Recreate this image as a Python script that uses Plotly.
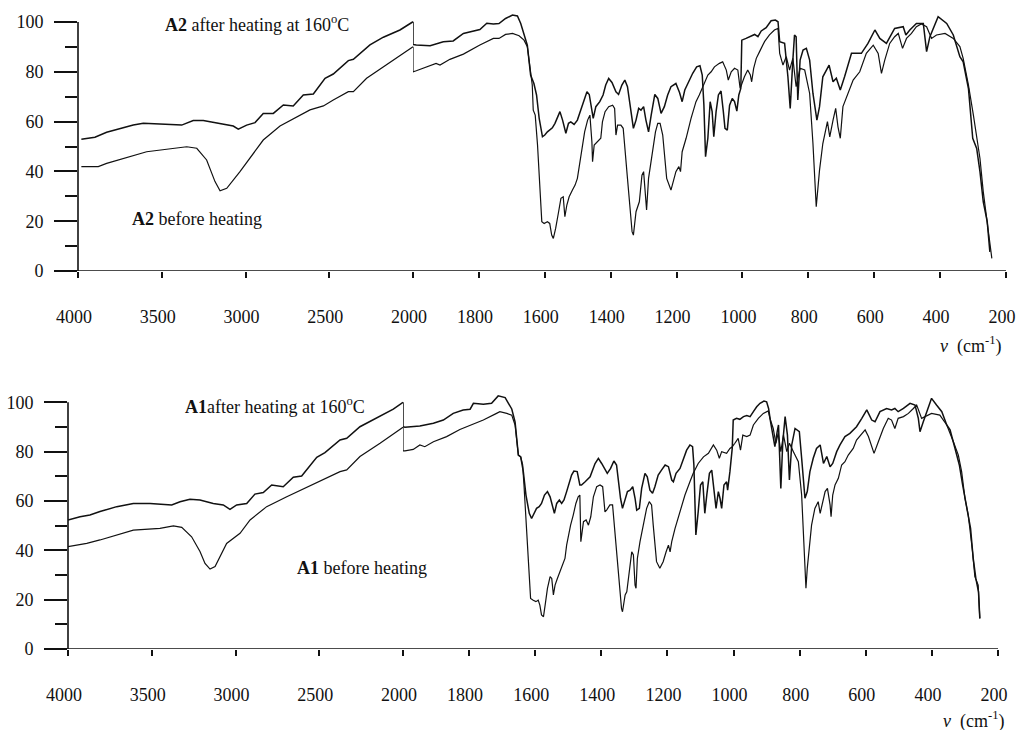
import plotly.graph_objects as go

# ---------------- data (wavenumber cm-1, transmittance %) ----------------
top_after = [(3980,52.9),(3899,53.7),(3829,55.7),(3670,58.6),(3610,59.3),(3381,58.6),(3312,60.4),(3252,60.4),(3073,58.2),(3043,57.0),(2993,58.6),(2943,59.6),(2894,63.3),(2834,63.3),(2774,66.7),(2715,66.3),(2655,70.7),(2595,71.1),(2525,77.4),(2476,79.1),(2386,84.5),(2356,85.0),(2257,90.8),(2177,93.9),(2078,96.8),(2000,100.1),(2000,91.0),(1990,90.8),(1948,90.5),(1908,92.1),(1878,92.4),(1847,95.4),(1797,97.0),(1776,99.5),(1756,99.2),(1739,99.4),(1719,101.4),(1698,102.8),(1683,102.4),(1673,99.4),(1663,94.8),(1653,90.7),(1643,78.7),(1633,75.3),(1625,70.7),(1617,61.3),(1607,53.9),(1600,54.6),(1592,55.9),(1585,56.6),(1577,57.5),(1569,59.3),(1561,61.9),(1554,64.0),(1546,60.6),(1536,55.3),(1528,59.3),(1521,59.9),(1511,58.9),(1501,60.6),(1491,64.6),(1480,68.6),(1472,72.0),(1465,70.9),(1457,64.0),(1453,61.3),(1445,66.0),(1433,68.0),(1423,70.7),(1415,74.7),(1406,77.3),(1396,75.7),(1384,72.0),(1376,70.9),(1366,74.7),(1357,76.7),(1349,74.0),(1340,66.6),(1331,57.3),(1323,60.6),(1315,65.3),(1308,64.6),(1300,66.0),(1293,60.6),(1285,55.9),(1277,62.6),(1266,70.9),(1257,69.3),(1247,63.3),(1237,66.0),(1227,70.7),(1217,74.0),(1202,75.3),(1191,71.7),(1183,68.0),(1175,72.7),(1163,76.0),(1151,79.4),(1139,82.0),(1129,82.4),(1122,78.7),(1117,66.6),(1112,45.9),(1105,53.3),(1098,68.0),(1092,64.0),(1087,53.9),(1080,64.0),(1073,70.7),(1065,72.3),(1058,64.0),(1053,57.3),(1046,56.6),(1039,66.6),(1031,69.3),(1024,68.0),(1017,64.2),(1011,70.7),(1005,73.3),(1002,92.7),(989,93.4),(978,94.1),(963,95.0),(953,94.1),(943,96.4),(928,97.7),(913,100.5),(900,100.8),(892,100.1),(887,92.1),(872,91.4),(862,78.0),(855,65.3),(847,84.7),(842,94.8),(837,94.1),(832,68.7),(825,84.7),(816,88.7),(806,89.4),(796,84.7),(786,71.3),(774,60.6),(766,66.0),(756,78.0),(737,82.7),(725,76.0),(715,77.4),(703,72.7),(690,78.0),(669,87.4),(639,87.4),(619,91.4),(598,96.8),(583,93.4),(563,91.4),(548,95.4),(538,97.4),(512,98.1),(504,94.8),(492,96.8),(472,99.4),(451,99.4),(441,88.1),(431,94.1),(406,102.1),(380,99.4),(360,94.8),(340,86.1),(330,84.0),(314,73.3),(301,53.3),(289,49.2),(279,39.9),(269,27.8),(257,19.8),(249,7.7)]

top_before = [(3980,41.9),(3879,41.9),(3829,43.2),(3670,46.2),(3590,47.9),(3351,49.9),(3291,49.3),(3232,44.6),(3182,35.9),(3152,32.2),(3112,33.2),(3033,39.9),(2953,47.3),(2894,52.6),(2794,58.2),(2675,62.7),(2615,64.7),(2535,66.3),(2476,68.7),(2386,72.0),(2356,72.0),(2277,77.4),(2177,82.0),(2078,86.3),(2000,90.1),(2000,80.0),(1990,80.4),(1948,82.7),(1930,83.4),(1918,82.7),(1888,85.0),(1847,87.1),(1797,90.8),(1756,93.4),(1739,93.4),(1719,95.0),(1698,95.4),(1678,94.5),(1663,92.7),(1653,90.1),(1643,78.7),(1638,74.7),(1635,64.6),(1629,62.6),(1622,50.6),(1617,37.2),(1612,26.5),(1609,19.8),(1602,19.1),(1592,19.8),(1585,19.1),(1579,14.4),(1574,13.1),(1567,17.1),(1558,23.8),(1551,29.2),(1544,29.8),(1539,21.8),(1533,26.5),(1526,29.8),(1516,32.5),(1508,34.5),(1501,37.2),(1496,41.2),(1488,49.2),(1479,55.9),(1470,60.6),(1463,62.6),(1457,51.9),(1455,43.9),(1450,50.6),(1440,51.9),(1430,53.3),(1425,59.9),(1417,64.0),(1406,66.0),(1394,66.6),(1388,65.3),(1384,54.6),(1379,58.6),(1369,58.6),(1362,57.3),(1356,49.2),(1349,37.2),(1342,26.5),(1335,15.8),(1331,14.4),(1323,23.8),(1313,27.8),(1305,38.5),(1300,39.9),(1293,25.1),(1291,24.5),(1285,37.2),(1275,46.6),(1264,55.9),(1257,59.3),(1250,59.3),(1242,54.6),(1237,46.6),(1230,37.2),(1217,32.5),(1210,35.8),(1202,39.9),(1193,41.9),(1188,39.9),(1183,47.9),(1171,53.3),(1156,61.3),(1141,68.0),(1131,70.7),(1118,74.7),(1105,78.7),(1095,80.0),(1085,82.0),(1070,83.4),(1060,84.0),(1049,80.7),(1043,76.7),(1034,80.0),(1024,81.4),(1014,80.7),(1007,73.3),(994,78.0),(984,80.7),(976,78.7),(972,76.0),(966,81.4),(958,85.4),(948,88.1),(933,92.1),(918,94.8),(903,96.8),(892,97.4),(887,87.4),(877,82.7),(867,86.1),(857,80.7),(847,85.4),(837,74.0),(825,81.4),(811,80.7),(796,71.3),(786,51.2),(776,25.8),(766,40.5),(756,51.2),(742,60.0),(735,53.9),(725,60.6),(717,65.3),(710,57.9),(703,53.3),(695,66.0),(679,71.3),(664,76.7),(644,80.0),(624,87.4),(603,90.7),(588,87.4),(578,79.4),(568,84.7),(553,91.4),(538,94.1),(527,95.4),(514,89.4),(502,93.4),(487,95.4),(472,98.1),(457,99.2),(441,98.1),(426,93.4),(411,94.8),(385,95.4),(360,93.4),(340,90.1),(330,85.4),(314,74.7),(299,62.6),(289,54.6),(279,45.2),(269,31.8),(259,21.1),(249,11.8),(243,5.1)]

bottom_after = [(4000,52.3),(3928,53.6),(3869,54.3),(3809,55.7),(3709,57.7),(3610,59.0),(3510,59.0),(3381,58.4),(3331,59.7),(3272,60.7),(3212,60.4),(3133,59.0),(3073,58.4),(3033,56.6),(2993,58.4),(2933,59.0),(2884,62.8),(2834,63.4),(2784,66.5),(2715,65.8),(2655,69.6),(2605,70.1),(2515,77.7),(2466,79.6),(2376,84.7),(2336,85.4),(2257,90.1),(2157,93.5),(2058,97.2),(2000,100.0),(2000,90.1),(1994,89.9),(1949,90.4),(1908,91.5),(1878,92.8),(1848,95.5),(1818,96.9),(1797,97.2),(1787,99.6),(1757,99.2),(1732,99.6),(1712,102.6),(1697,101.9),(1691,101.9),(1681,99.6),(1671,97.3),(1661,92.1),(1651,78.6),(1644,77.9),(1636,71.9),(1628,62.4),(1618,55.0),(1611,52.9),(1604,55.0),(1596,57.0),(1588,57.7),(1581,59.0),(1572,62.4),(1563,63.8),(1555,61.7),(1547,57.0),(1542,55.0),(1535,59.0),(1527,60.4),(1520,59.0),(1513,60.4),(1505,63.8),(1498,67.1),(1490,70.5),(1483,72.1),(1473,71.9),(1465,66.5),(1460,66.5),(1449,67.8),(1434,69.8),(1419,75.2),(1409,77.3),(1399,75.2),(1389,72.5),(1382,71.2),(1372,73.2),(1362,76.2),(1354,74.6),(1349,67.8),(1342,61.1),(1336,57.0),(1328,61.1),(1321,63.8),(1313,64.4),(1305,65.8),(1298,61.1),(1293,56.3),(1285,57.0),(1278,65.1),(1268,71.2),(1261,69.8),(1253,64.4),(1245,63.1),(1238,65.8),(1228,70.5),(1218,72.5),(1207,74.6),(1197,73.9),(1187,68.5),(1182,67.8),(1174,71.2),(1162,73.2),(1152,76.6),(1142,80.6),(1132,82.7),(1124,82.0),(1120,74.6),(1114,46.2),(1107,55.6),(1100,66.5),(1093,67.8),(1087,55.0),(1081,62.4),(1073,71.2),(1066,72.5),(1059,63.8),(1053,57.0),(1046,63.8),(1041,61.1),(1036,57.0),(1029,66.5),(1021,67.8),(1018,64.4),(1011,71.9),(1004,81.3),(1001,92.8),(991,93.5),(981,93.1),(970,94.2),(960,94.6),(950,94.2),(940,96.2),(930,98.2),(920,99.6),(908,100.5),(900,100.2),(894,97.5),(888,92.1),(880,86.7),(875,82.0),(868,88.1),(864,90.8),(857,65.1),(851,84.0),(844,94.2),(837,86.7),(831,68.5),(824,82.7),(814,89.4),(801,88.1),(794,77.3),(784,61.1),(777,63.8),(769,71.9),(759,77.3),(749,81.3),(738,82.7),(728,75.2),(718,78.0),(708,73.9),(700,75.2),(688,80.0),(678,82.7),(663,86.1),(648,87.4),(628,90.1),(612,93.5),(597,96.9),(582,92.8),(572,92.1),(557,96.2),(537,97.5),(522,96.9),(512,97.5),(502,96.2),(486,97.5),(466,99.6),(451,98.9),(441,93.5),(436,88.1),(426,92.1),(416,96.2),(401,101.6),(386,98.9),(370,96.2),(355,90.8),(345,88.8),(330,81.3),(317,74.6),(307,66.5),(297,58.4),(290,52.9),(283,48.9),(275,36.7),(267,28.6),(259,23.2),(255,12.4)]

bottom_before = [(4000,41.5),(3888,42.8),(3809,44.2),(3709,46.2),(3610,48.2),(3451,48.9),(3371,49.9),(3321,49.3),(3262,45.5),(3212,39.5),(3182,34.7),(3152,32.4),(3122,33.4),(3053,42.8),(2973,46.9),(2913,52.3),(2814,57.7),(2694,61.7),(2615,64.2),(2496,67.8),(2376,71.9),(2336,72.6),(2257,78.0),(2137,83.4),(2018,89.0),(2000,89.9),(2000,80.3),(1994,80.3),(1969,80.9),(1949,82.7),(1934,82.0),(1908,84.0),(1868,86.1),(1828,89.0),(1797,90.8),(1757,92.8),(1717,95.5),(1707,96.2),(1686,95.5),(1671,94.8),(1661,90.8),(1651,78.6),(1644,77.9),(1638,74.6),(1634,66.5),(1628,52.9),(1624,39.4),(1618,28.6),(1614,20.5),(1606,19.8),(1598,19.2),(1591,19.8),(1586,17.8),(1581,13.8),(1575,13.1),(1570,17.8),(1563,24.6),(1555,29.3),(1550,28.6),(1545,21.9),(1540,25.9),(1533,28.6),(1525,31.3),(1517,34.0),(1510,36.7),(1505,42.1),(1500,46.2),(1493,50.2),(1485,54.3),(1477,59.0),(1470,61.7),(1465,62.4),(1462,43.5),(1454,51.6),(1446,52.3),(1439,50.2),(1432,53.6),(1424,61.7),(1414,65.8),(1404,66.5),(1396,65.8),(1389,55.6),(1384,56.3),(1374,58.4),(1366,58.4),(1359,47.5),(1352,34.0),(1346,25.9),(1339,16.5),(1336,15.1),(1328,21.9),(1323,23.2),(1313,34.0),(1308,39.4),(1303,38.1),(1298,25.9),(1295,24.6),(1291,36.7),(1283,43.5),(1273,50.2),(1263,57.0),(1255,59.7),(1248,58.4),(1243,50.2),(1238,40.8),(1233,35.4),(1223,32.7),(1213,35.4),(1204,39.4),(1197,42.1),(1192,39.4),(1187,43.5),(1177,48.9),(1162,55.6),(1147,62.4),(1132,67.8),(1122,71.2),(1107,75.2),(1091,77.9),(1076,79.3),(1061,82.7),(1051,80.6),(1043,77.3),(1036,80.0),(1021,79.3),(1011,81.3),(1004,82.0),(996,83.4),(986,85.4),(979,80.6),(972,86.7),(960,86.1),(950,86.7),(940,90.8),(925,93.5),(910,95.5),(895,96.5),(890,93.5),(880,89.4),(872,83.4),(865,87.4),(857,80.0),(849,86.7),(839,80.0),(831,83.4),(819,80.0),(804,75.9),(794,62.4),(787,42.1),(781,24.6),(777,32.7),(771,42.1),(764,50.2),(754,57.0),(744,59.7),(738,55.0),(730,59.7),(723,63.8),(716,65.1),(708,58.4),(705,53.6),(700,62.4),(693,66.5),(683,69.2),(673,74.6),(663,75.9),(653,78.6),(638,81.3),(628,84.7),(612,87.4),(602,88.8),(592,86.1),(582,82.0),(575,79.3),(562,84.0),(547,89.4),(532,93.5),(522,92.8),(512,89.4),(502,93.5),(486,94.2),(471,95.5),(456,97.5),(446,98.9),(431,93.5),(421,94.2),(401,95.5),(376,94.8),(355,90.8),(335,84.0),(320,78.6),(310,71.9),(300,61.1),(290,54.3),(285,48.9),(277,39.4),(270,29.3),(260,25.9),(255,12.4)]

hi_ticks = [4000, 3500, 3000, 2500, 2000]
lo_ticks = [1800, 1600, 1400, 1200, 1000, 800, 600, 400, 200]
y_major = [0, 20, 40, 60, 80, 100]
y_minor = [10, 30, 50, 70, 90]

FONT = "Liberation Serif"
INK = "#111111"
W, H = 1016, 730

fig = go.Figure()


def split(points):
    i0 = next(i for i, (v, _) in enumerate(points) if v <= 2000)
    return points[:i0 + 1], points[i0:]


def add(points, xa_hi, xa_lo, ya, width):
    hi, lo = split(points)
    for seg, xa in ((hi, xa_hi), (lo, xa_lo)):
        fig.add_trace(go.Scatter(
            x=[p[0] for p in seg], y=[p[1] for p in seg], mode="lines",
            xaxis=xa, yaxis=ya, showlegend=False, hoverinfo="skip",
            line=dict(color=INK, width=width)))


add(top_after, "x", "x2", "y", 1.5)
add(top_before, "x", "x2", "y", 1.2)
add(bottom_after, "x3", "x4", "y2", 1.5)
add(bottom_before, "x3", "x4", "y2", 1.2)

# panel geometry (pixels)
top_y0, top_y100 = 271, 22
bot_y0, bot_y100 = 649, 402.3
top_x = (78, 413, 1006)
bot_x = (68, 403, 998)
YMAX = 105


def ydomain(p0, p100):
    per = (p0 - p100) / 100.0
    ptop = p0 - per * YMAX
    return [(H - p0) / H, (H - ptop) / H]


tickfont = dict(family=FONT, size=18, color=INK)


def xax(dom, rng, vals, anchor):
    return dict(domain=dom, range=rng, anchor=anchor, tickmode="array",
                tickvals=vals, ticktext=[str(v) for v in vals],
                ticks="outside", ticklen=6, tickwidth=1.5, tickcolor=INK,
                showgrid=False, zeroline=False, showline=False, automargin=False,
                tickfont=tickfont, ticklabelstandoff=23, ticklabelshift=4,
                ticklabeloverflow="allow")


def yax(dom, anchor):
    return dict(domain=dom, range=[0, YMAX], anchor=anchor, tickmode="array",
                tickvals=y_major, ticktext=[str(v) for v in y_major],
                ticks="outside", ticklen=23, tickwidth=1.5, tickcolor=INK,
                minor=dict(tickmode="array", tickvals=y_minor, ticks="outside",
                           ticklen=12, tickwidth=1.5, tickcolor=INK, showgrid=False),
                showgrid=False, zeroline=False, showline=False, automargin=False,
                tickfont=tickfont, ticklabelstandoff=7, ticklabeloverflow="allow")


fig.update_layout(
    width=W, height=H, margin=dict(l=0, r=0, t=0, b=0, pad=0),
    paper_bgcolor="white", plot_bgcolor="white",
    xaxis=xax([top_x[0] / W, top_x[1] / W], [4000, 2000], hi_ticks, "y"),
    xaxis2=xax([top_x[1] / W, top_x[2] / W], [2000, 200], lo_ticks, "y"),
    xaxis3=xax([bot_x[0] / W, bot_x[1] / W], [4000, 2000], hi_ticks, "y2"),
    xaxis4=xax([bot_x[1] / W, bot_x[2] / W], [2000, 200], lo_ticks, "y2"),
    yaxis=yax(ydomain(top_y0, top_y100), "x"),
    yaxis2=yax(ydomain(bot_y0, bot_y100), "x3"),
)

shapes = []
for (xl, xr, yref, yx) in ((55, 1006, "y", top_x[0]), (45, 998, "y2", bot_x[0])):
    shapes.append(dict(type="line", xref="paper", yref=yref, x0=xl / W, x1=xr / W,
                       y0=0, y1=0, line=dict(color=INK, width=1.6)))
    shapes.append(dict(type="line", xref="paper", yref=yref, x0=yx / W, x1=yx / W,
                       y0=0, y1=100, line=dict(color=INK, width=1.6)))
fig.update_layout(shapes=shapes)

afont = dict(family=FONT, size=18, color=INK)
labels = [
    ("<b>A2</b> after heating at 160<sup>o</sup>C", 163, 24, "left"),
    ("<b>A2</b> before heating", 130, 219, "left"),
    ("<b>A1</b>after heating at 160<sup>o</sup>C", 183, 405, "left"),
    ("<b>A1</b> before heating", 295, 568, "left"),
    ("<i>v</i>  (cm<sup>-1</sup>)", 1003, 345, "right"),
    ("<i>v</i>  (cm<sup>-1</sup>)", 1006, 720, "right"),
]
for text, px, py, anchor in labels:
    fig.add_annotation(text=text, xref="paper", yref="paper", x=px / W, y=1 - py / H,
                       xanchor=anchor, yanchor="middle", showarrow=False,
                       font=afont)

fig.write_html("out.html")
